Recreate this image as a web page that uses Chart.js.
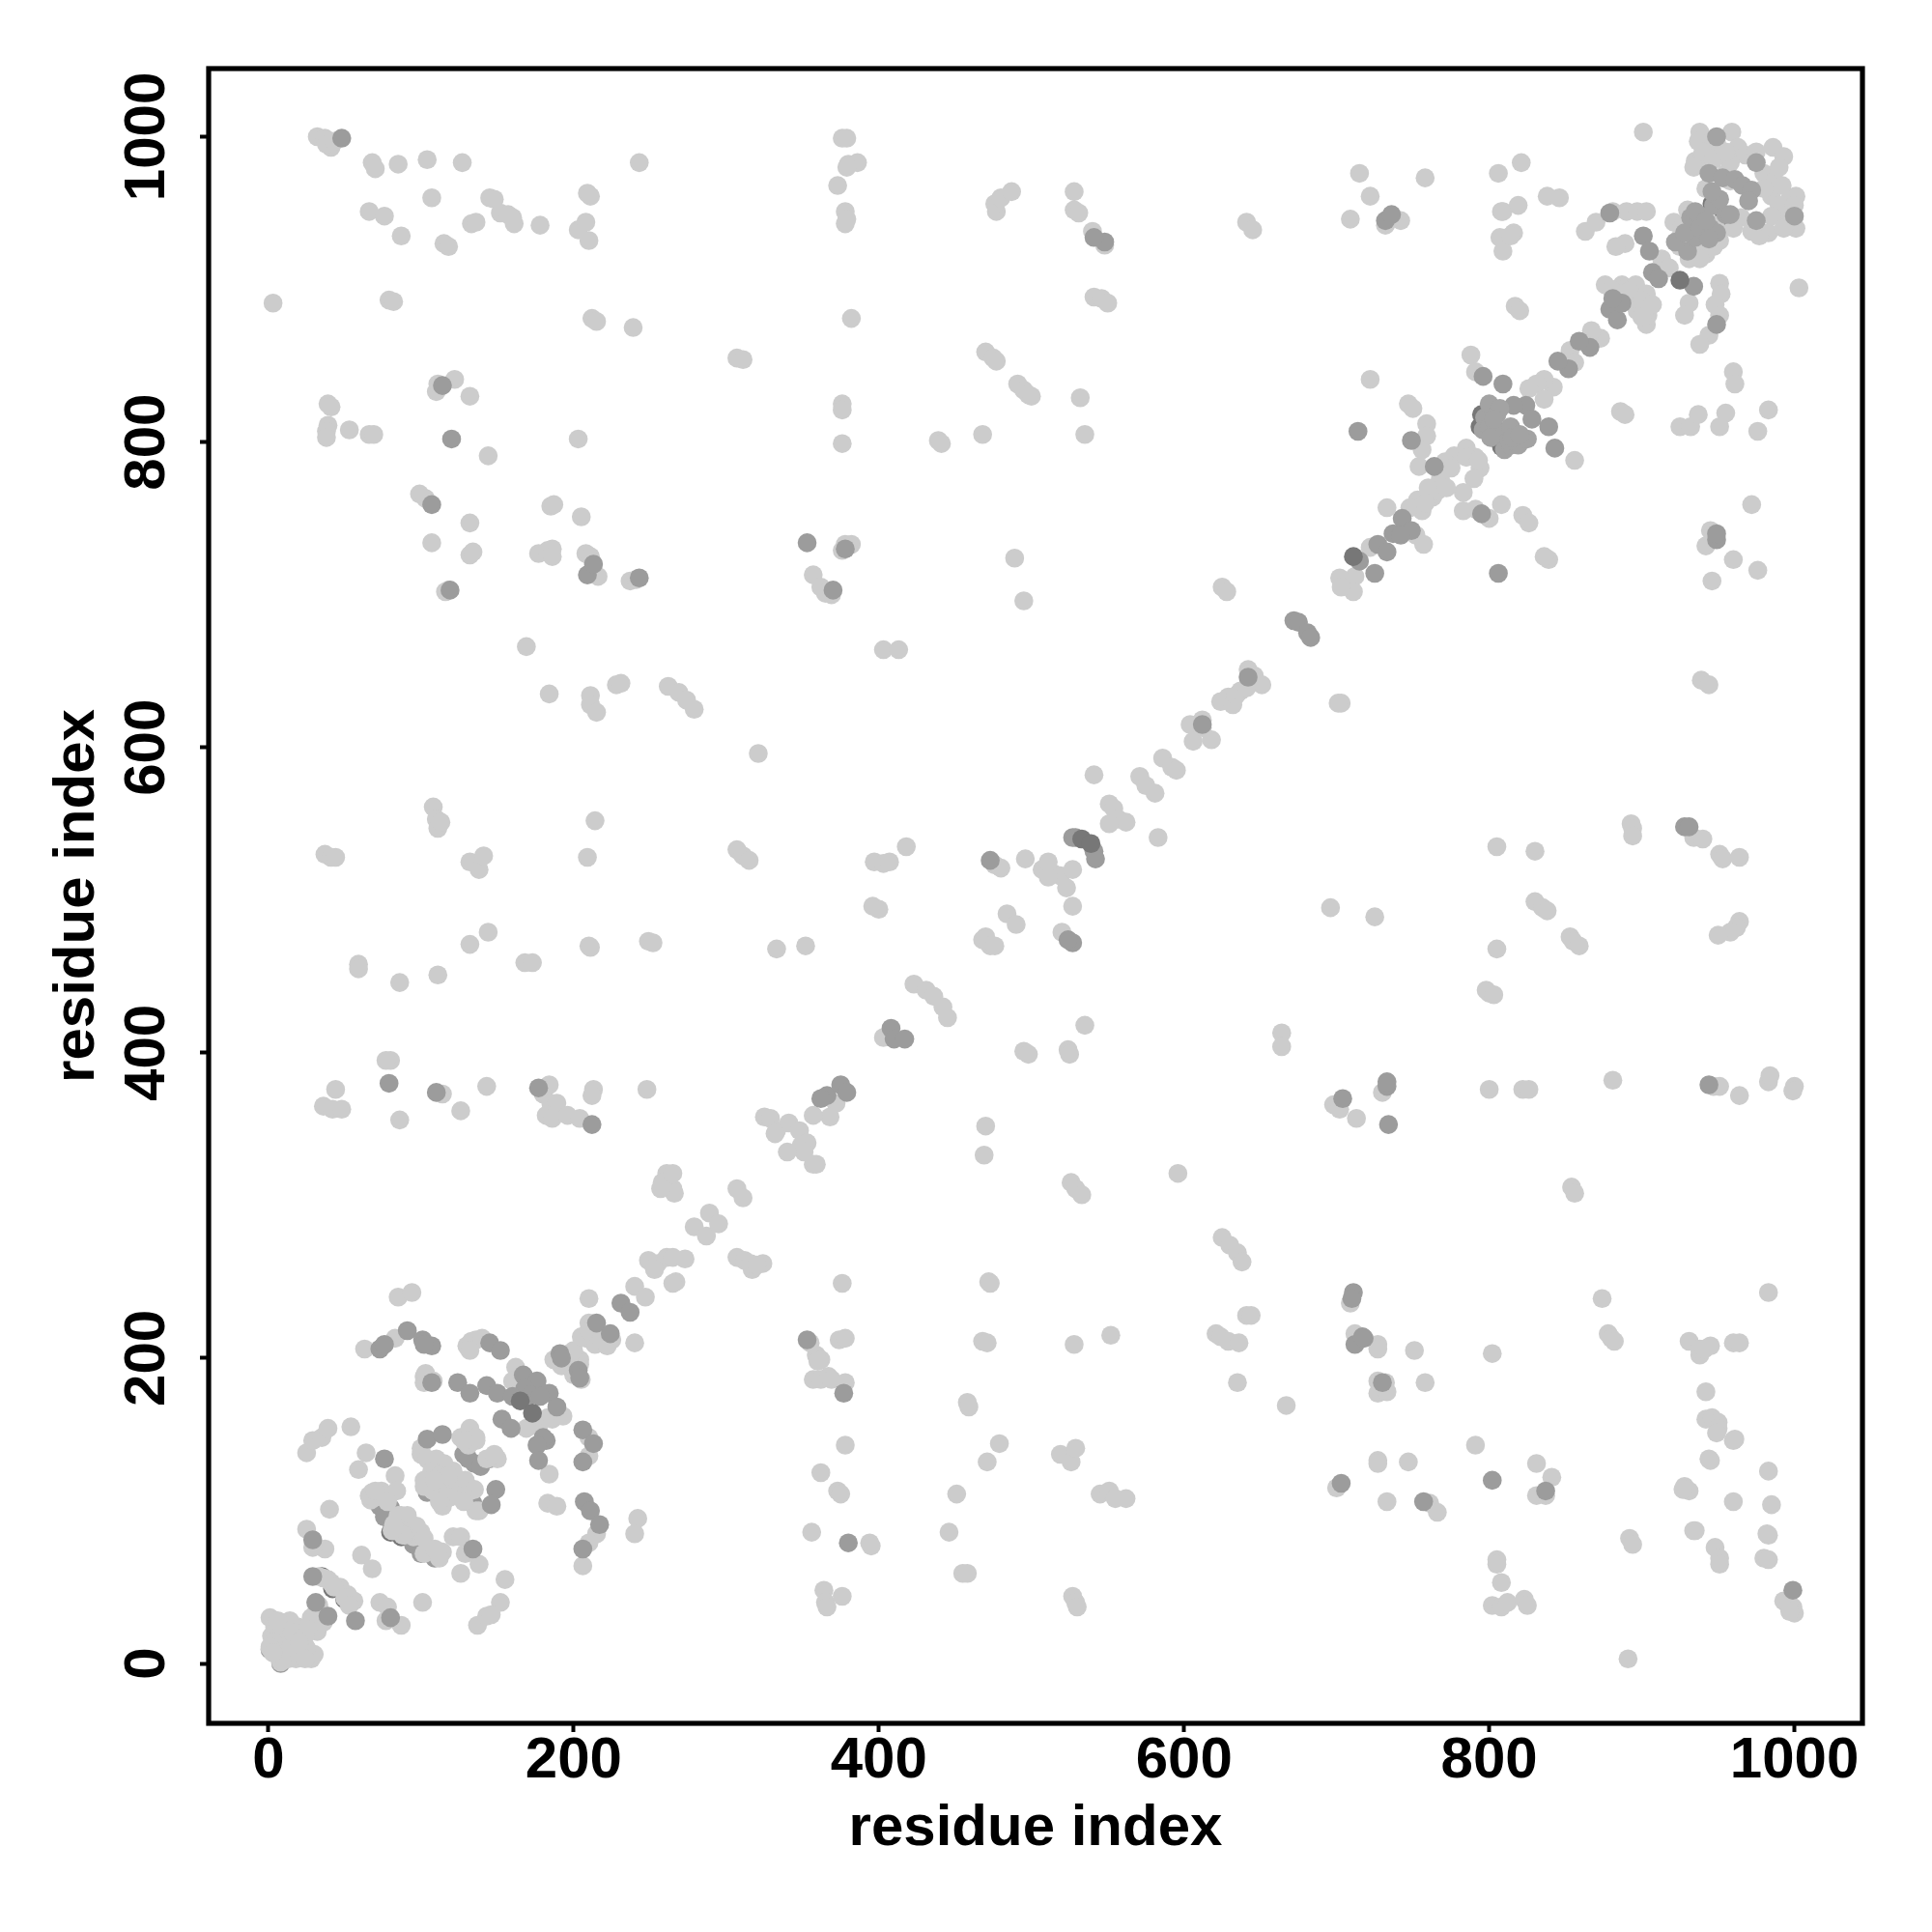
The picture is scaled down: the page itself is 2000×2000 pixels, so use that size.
<!DOCTYPE html>
<html>
<head>
<meta charset="utf-8">
<title>residue contact map</title>
<script src="https://cdn.jsdelivr.net/npm/chart.js@4/dist/chart.umd.min.js"></script>
<style>
html, body { margin: 0; padding: 0; background: #fff; }
canvas { display: block; }
</style>
</head>
<body>
<canvas id="chart" width="2000" height="2000"></canvas>
<script>
// contact pairs, one list per grey level
const xTitle = 'residue index';
const yTitle = 'residue index';
const axisMin = -39.2;
const axisMax = 1044.6;
const tickStep = 200;

// dark ones that only show as slivers under the lighter points
const darkUnderPoints = [
  [81,92],[87,83],[80,86],[35,57],[42,49],[50,42],[946,956],[954,948]
];

const darkPoints = [
  [165,172],[173,164],[925,906],[711,725],[533,540],[539,537],
  [795,818],[794,810],[808,797],[798,812],[804,808],[812,800]
];

// mid grey points hidden in part by the light ones
const midUnderPoints = [
  [128,137],[135,131],[131,134],[139,129],[145,134],[134,105],[104,112],[73,103],[80,102],[76,96],
  [90,85],[95,78],[100,72],[104,75],[109,69],[1,9],[8,0]
];

const midPoints = [
  // lower left block
  [76,134],[104,147],[114,150],[149,114],[146,104],[134,75],[29,81],[29,57],[31,40],[39,31],[57,28],[80,30],
  [73,206],[76,209],[91,218],[101,212],[107,208],[102,209],[145,210],[152,205],[107,184],
  [124,184],[132,177],[143,182],[150,177],[167,189],[176,185],[184,177],[189,168],[153,160],[159,154],
  [168,180],[172,176],[160,175],[178,175],
  [182,146],[180,148],[176,143],[177,133],[206,153],[213,144],[206,132],[207,106],[211,100],[217,91],[206,75],
  [231,236],[237,230],[215,223],[224,216],[191,203],[192,200],[203,192],[204,187],
  // off diagonal, left and middle
  [48,999],[114,837],[120,802],[107,759],[209,713],[213,720],[119,703],[243,711],[79,380],[110,374],
  [177,377],[212,353],[366,372],[362,370],[375,379],[379,374],[408,416],[410,409],[417,409],[353,734],
  [378,730],[370,703],[353,212],[377,177],[380,79],[548,931],[541,934],[672,683],[675,682],[681,675],
  [683,672],[612,615],[642,646],[527,541],[529,541],[541,532],[542,527],[473,526],[527,472],[524,474],
  // right side, lower half
  [711,243],[710,239],[712,209],[718,213],[717,214],[730,184],[703,118],[757,106],[802,120],[837,113],
  [704,370],[733,378],[733,381],[734,353],[999,48],[928,548],[931,548],[944,379],
  // diagonal, upper right
  [901,935],[905,925],[907,911],[911,907],[934,902],[879,950],[949,877],[879,887],[884,880],[887,891],[881,894],
  [866,862],[859,866],[852,848],[845,853],[824,824],[816,824],[828,815],[839,810],[843,796],[809,838],[796,843],
  [764,784],[743,750],[737,740],[749,742],[742,739],[727,733],[733,728],[715,722],[725,714],[749,801],[714,807],
  [795,753],[806,714],[732,945],[736,949],[949,736],[949,740]
];

const lightPoints = [
  // near the origin
  [1,30],[8,27],[19,24],[28,30],[33,38],[1,10],[8,1],[28,3],[30,6],[11,21],[22,16],[5,6],[16,13],[25,10],[12,6],
  [2,18],[32,21],[36,27],[4,24],[14,28],[20,8],[24,18],[18,3],[4,17],[10,13],[16,20],[26,24],[31,33],[6,28],[3,14],
  [13,3],[24,3],[20,14],[1,11],[9,2],[3,7],
  // lower left block
  [85,240],[94,243],[63,206],[83,213],[130,208],[136,212],[133,211],[140,213],[132,205],[102,188],[102,184],[108,185],
  [104,186],[103,190],[162,194],[160,185],[170,182],[177,158],[177,155],[183,161],[186,160],[193,162],[184,124],[169,154],
  [210,148],[210,136],[183,105],[189,103],[215,85],[210,79],[206,64],[242,95],[240,85],[240,247],[247,240],[210,239],
  [210,223],[225,212],[208,213],[240,210],[204,199],[197,203],[187,199],[200,189],[214,209],[204,196],
  [196,198],[200,205],[205,214],[210,218],[218,212],[222,208],[192,195],[205,186],
  [25,138],[29,146],[35,148],[39,154],[54,155],[64,138],[59,127],[83,123],[68,112],[74,113],[84,113],[40,101],
  [131,150],[136,146],[131,143],[100,137],[105,133],[115,129],[126,119],[107,114],[132,113],[150,134],[138,100],
  [100,141],[104,134],[110,134],[115,131],[121,126],[107,126],[112,123],[102,120],[108,113],[115,114],[122,119],
  [129,120],[135,114],[128,110],[119,109],[114,103],[136,100],[126,148],[132,154],[136,148],[128,146],[143,134],[148,137],
  [112,106],[102,116],[128,106],[118,123],[109,120],[70,109],[87,97],[92,92],[100,86],[114,73],[67,107],[95,83],[102,72],
  [66,110],[70,113],[78,106],[85,97],[91,97],[97,90],[102,82],[109,75],[112,69],[83,92],[89,84],[82,87],[82,91],[88,84],[81,87],
  [121,83],[126,83],[129,72],[138,65],[126,59],[155,55],[61,71],[68,62],[25,88],[37,75],[29,76],
  [39,55],[33,57],[41,53],[47,50],[52,45],[36,56],[43,50],[50,43],[56,41],[53,38],[73,40],[78,37],[87,25],[77,28],[101,40],[137,25],[143,31],[152,40],[146,32],
  // diagonal 250 to 460
  [249,264],[255,262],[261,266],[253,258],[265,266],[273,265],[267,250],[265,249],[261,321],[265,311],[258,315],
  [266,308],[257,311],[265,321],[279,286],[289,295],[287,280],[295,288],[307,311],[311,305],[307,266],[312,264],
  [317,258],[324,262],[316,262],[320,261],[325,358],[329,357],[333,349],[341,354],[348,349],[332,347],[349,339],
  [353,341],[357,327],[351,335],[359,327],[340,335],[372,367],[368,358],[357,359],[403,410],
  [423,445],[431,441],[436,437],[442,430],[445,423],
  // upper left block
  [32,1000],[37,999],[41,993],[38,995],[43,997],[68,983],[70,979],[85,982],[104,985],[127,983],[107,960],[66,951],[76,948],
  [87,935],[133,943],[136,944],[115,930],[118,928],[145,960],[148,959],[152,950],[157,949],[161,943],[160,947],[178,942],
  [203,939],[208,944],[210,932],[209,963],[211,961],[243,983],[3,891],[79,893],[82,892],[212,881],[215,879],[239,875],
  [307,855],[311,854],[382,881],[39,825],[41,823],[39,811],[38,807],[38,803],[53,808],[66,805],[69,805],[110,833],[111,838],
  [122,841],[132,830],[144,791],[203,802],[99,766],[103,763],[107,734],[132,747],[132,726],[134,728],[185,758],[187,759],
  [205,751],[177,727],[183,729],[186,730],[186,725],[208,727],[211,725],[216,712],[116,702],[118,703],[237,709],[241,710],
  [169,666],[184,635],[211,634],[211,628],[215,623],[228,641],[231,642],[262,640],[269,636],[274,631],[279,625],[321,596],
  [108,561],[110,553],[111,547],[113,551],[37,530],[41,528],[44,528],[132,525],[138,520],[141,529],[209,528],[214,552],
  [307,533],[311,529],[315,526],[59,458],[59,455],[86,446],[111,451],[132,471],[144,479],[168,459],[173,459],[210,470],
  [211,469],[249,473],[252,472],[333,468],[352,470],[80,395],[77,395],[44,376],[36,365],[42,363],[48,363],[86,356],[114,373],
  [126,362],[143,378],[184,379],[180,373],[185,367],[189,367],[182,359],[186,357],[196,359],[204,357],[213,376],[212,372],[248,376],
  [396,496],[400,494],[397,525],[403,524],[407,525],[418,535],[403,664],[413,664],[376,729],[378,733],[382,733],
  [357,713],[362,705],[365,701],[369,700],[376,799],[376,825],[376,821],[376,999],[379,999],[373,968],[378,951],[379,946],
  [378,943],[380,982],[386,983],[379,980],
  // middle of the map
  [439,801],[441,799],[468,805],[470,859],[475,855],[477,853],[491,838],[495,834],[498,831],[500,830],[532,829],[535,805],
  [489,724],[495,696],[477,951],[476,956],[480,960],[487,964],[528,964],[528,952],[531,950],[540,938],[548,929],
  [541,895],[546,894],[550,891],[641,944],[645,939],[625,705],[628,702],[642,651],[646,647],[651,641],[629,633],[624,630],
  [632,628],[634,634],[637,637],[641,639],[604,615],[612,618],[606,604],[618,605],[612,613],[586,593],[592,587],[595,585],
  [571,581],[575,575],[581,570],[541,582],[551,563],[554,560],[557,553],[562,551],[551,550],[583,541],[476,523],[480,521],
  [496,527],[507,520],[519,516],[515,517],[527,520],[523,508],[527,496],[511,515],[511,525],[520,479],[468,474],[470,476],
  [473,470],[476,470],[484,491],[490,484],[495,401],[498,399],[524,402],[525,399],[535,418],[664,413],[664,404],[470,352],
  [469,333],[526,315],[529,311],[533,307],[596,321],[625,279],[630,274],[635,269],[638,263],[641,228],[644,228],[621,216],
  [624,214],[629,211],[636,210],[635,184],[667,169],
  // lower middle
  [376,249],[374,212],[378,213],[355,210],[359,202],[362,199],[357,186],[362,186],[367,188],[369,186],[378,184],[360,198],
  [378,143],[362,125],[373,113],[375,111],[356,86],[394,79],[395,77],[364,48],[365,40],[366,37],[376,44],[472,250],[473,249],
  [468,211],[471,210],[458,171],[459,168],[479,144],[471,132],[451,111],[446,86],[455,59],[458,59],[528,209],[552,215],
  [519,137],[526,132],[529,141],[545,111],[551,113],[555,108],[562,108],[527,44],[529,40],[530,37],
  // lower right
  [874,239],[878,216],[880,213],[882,211],[931,211],[938,202],[938,206],[941,206],[945,208],[960,210],[964,210],[942,178],
  [942,160],[946,161],[950,158],[950,154],[949,151],[960,146],[961,147],[944,134],[945,133],[983,126],[928,116],[931,113],
  [927,114],[960,106],[985,104],[935,87],[934,87],[948,76],[951,69],[951,65],[982,85],[983,84],[980,69],[983,68],[993,41],
  [996,38],[999,37],[1000,33],[997,34],[891,3],[892,82],[894,78],[983,243],[709,236],[712,216],[727,209],[727,206],[751,205],
  [758,184],[727,185],[727,177],[732,184],[733,178],[802,203],[791,143],[727,133],[727,131],[747,132],[700,115],[733,106],
  [761,105],[766,99],[831,131],[841,122],[831,110],[837,110],[805,68],[805,65],[808,53],[802,38],[808,37],[812,40],[823,42],[825,38],
  // right side, middle band
  [698,366],[702,363],[713,357],[730,374],[696,495],[725,489],[800,376],[822,376],[826,376],[881,382],[805,468],[798,441],
  [800,439],[803,438],[805,535],[830,532],[830,499],[835,495],[838,493],[853,476],[855,473],[859,470],[854,312],[856,308],
  [893,550],[894,547],[894,542],[934,541],[940,540],[951,530],[953,527],[964,528],[964,486],[962,482],[958,479],[950,477],
  [947,378],[951,378],[964,372],[983,381],[984,385],[1000,378],[999,375],[939,644],[944,641],[703,629],[701,629],
  // upper right, off diagonal
  [715,976],[722,961],[758,973],[709,946],[742,945],[732,942],[806,976],[821,983],[809,951],[819,955],[808,951],[838,961],
  [846,960],[807,934],[816,937],[809,925],[814,935],[817,889],[820,886],[960,846],[961,838],[886,820],[889,818],[925,810],
  [932,810],[937,818],[955,819],[951,810],[983,821],[976,807],[972,759],[945,742],[942,732],[960,723],[976,716],[946,709],[1003,901],
  // diagonal 700 to 900
  [785,796],[791,790],[794,783],[790,776],[777,791],[771,787],[783,767],[768,776],[754,784],[763,764],[753,762],[756,755],
  [775,783],[785,790],[793,788],[760,770],[766,768],[772,770],[748,757],[758,760],
  [733,757],[752,739],[757,733],[722,731],[712,712],[702,711],[711,702],[703,705],[722,841],[747,825],[750,822],[759,812],
  [759,804],[756,795],[783,755],[800,750],[808,759],[822,752],[826,747],[791,756],[839,723],[836,725],
  [842,836],[836,841],[831,838],[826,835],[836,828],[856,788],[788,857],[791,846],
  [873,868],[867,873],[853,860],[856,852],[876,903],[887,903],[896,903],[903,897],[903,889],[903,877],[897,886],[884,900],
  [896,894],[904,883],[880,900],[892,899],[900,893],[900,882],[907,890],[863,938],[870,944],[881,951],[890,951],[897,951],[903,951],[889,930],[883,928],[913,920],[918,914],
  [951,904],[952,897],[948,890],[951,883],[931,891],[928,883],[944,870],[938,864],
  // top right corner
  [901,1003],[938,1003],[937,997],[959,1003],[949,996],[944,996],[963,993],[968,988],[986,993],[993,987],[958,983],[935,984],
  [938,983],[934,980],[942,966],[980,976],[987,971],[985,961],[997,959],[1001,961],[996,947],[1001,940],[983,937],[977,935],
  [965,947],[958,971],[955,976],[951,932],[942,923],[921,944],[925,934],[930,952],[941,928],
  [940,990],[947,985],[955,990],[975,990],[990,980],[992,968],[980,966],[990,955],[985,948],[1000,955],[993,940],[972,938],
  [960,940],[948,942],[926,940],[925,928],[931,920],[947,928],[938,920]
];

// the two dense clusters on the diagonal, these sit on top of everything
const clusterMidPoints = [
  [797,816],[796,808],[810,795],[800,810],[806,806],[814,798],
  [800,825],[801,803],[819,798],[825,802],[814,810],[805,818],[807,822],
  [813,801],[803,815],[815,803],[820,805],
  [947,955],[955,949],
  [949,1000],[975,983],[944,976],[953,973],[961,972],[966,968],[972,965],[970,958],[1000,948],[975,945],[958,949],[951,959],[946,964],
  [939,948],[932,947],[945,940],[930,925],[935,934],[922,931],[949,937],[935,951],[928,937],[938,940],[942,945],[944,933]
];

// chart.js paints the first dataset last, so the top layer goes first here
const greyLayers = [
  { points: clusterMidPoints, color: '#a3a3a3' },
  { points: darkPoints, color: '#777777' },
  { points: midPoints, color: '#9c9c9c' },
  { points: lightPoints, color: '#cccccc' },
  { points: midUnderPoints, color: '#9c9c9c' },
  { points: darkUnderPoints, color: '#777777' }
];

// box round the plot, chart.js only draws the two axis lines
const plotBox = {
  id: 'plotBox',
  afterDraw(chart) {
    const { ctx, chartArea: a } = chart;
    ctx.save();
    ctx.strokeStyle = '#000';
    ctx.lineWidth = 5.2;
    ctx.strokeRect(a.left, a.top, a.right - a.left, a.bottom - a.top);
    ctx.restore();
  }
};

const axisFont = { family: '"Liberation Sans", Arial, sans-serif', size: 60, weight: 'bold' };

function axisOptions(text, rotation, tickPadding, crossAlign) {
  return {
    min: axisMin,
    max: axisMax,
    title: { display: true, text: text, color: '#000', font: axisFont, padding: { top: 0, bottom: 0 } },
    grid: { drawOnChartArea: false, drawTicks: true, tickLength: 9, tickWidth: 4, tickColor: '#000' },
    border: { display: false },
    ticks: {
      stepSize: tickStep,
      includeBounds: false,
      autoSkip: false,
      color: '#000',
      font: axisFont,
      padding: tickPadding,
      minRotation: rotation,
      maxRotation: rotation,
      crossAlign: crossAlign,
      callback: value => String(value)
    }
  };
}

new Chart(document.getElementById('chart').getContext('2d'), {
  type: 'scatter',
  data: {
    datasets: greyLayers.map(layer => ({
      data: layer.points.map(p => ({ x: p[0], y: p[1] })),
      backgroundColor: layer.color,
      borderWidth: 0,
      pointRadius: 9.8,
      pointHoverRadius: 9.8
    }))
  },
  options: {
    responsive: false,
    animation: false,
    layout: { padding: { left: 44, top: 71, right: 72, bottom: 71 } },
    plugins: { legend: { display: false }, tooltip: { enabled: false } },
    scales: {
      x: Object.assign(axisOptions(xTitle, 0, -6, 'near'), { afterFit(s) { s.height = 145; } }),
      y: Object.assign(axisOptions(yTitle, 90, -13, 'center'), { afterFit(s) { s.width = 172; } })
    }
  },
  plugins: [plotBox]
});
</script>
</body>
</html>
